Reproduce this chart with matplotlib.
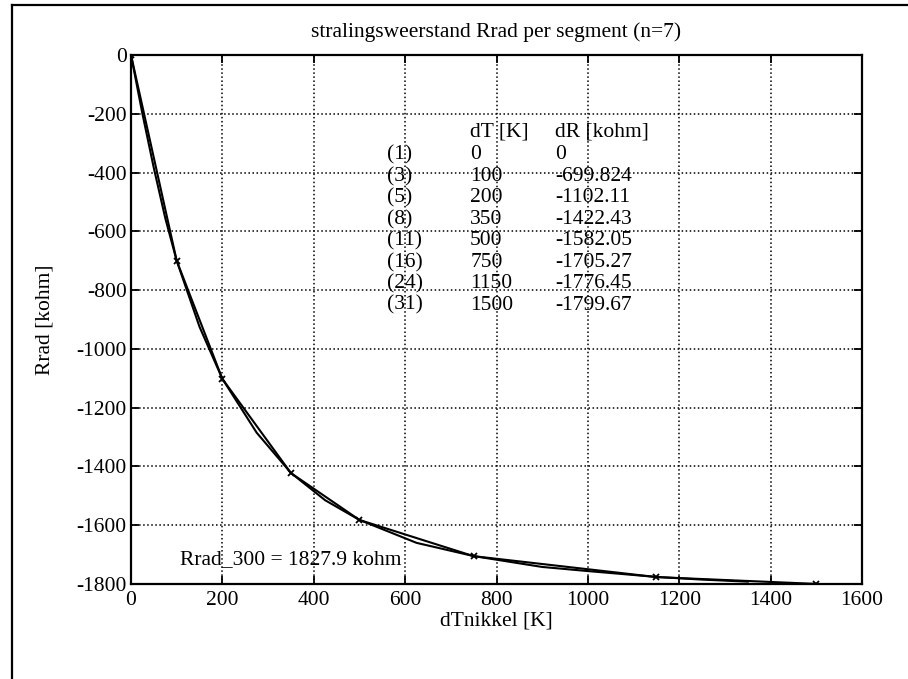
import matplotlib
matplotlib.use("Agg")
import matplotlib.pyplot as plt
from matplotlib.lines import Line2D

# Data: computed points (marked with x)
dT = [0, 100, 200, 350, 500, 750, 1150, 1500]
dR = [0, -699.824, -1102.11, -1422.43, -1582.05, -1705.27, -1776.45, -1799.67]
seg_idx = ["(1)", "(3)", "(5)", "(8)", "(11)", "(16)", "(24)", "(31)"]
dT_labels = ["0", "100", "200", "350", "500", "750", "1150", "1500"]
dR_labels = ["0", "-699.824", "-1102.11", "-1422.43", "-1582.05", "-1705.27", "-1776.45", "-1799.67"]

# Smooth curve
smooth_x = [0, 25, 50, 75, 100, 150, 200, 275, 350, 425, 500, 625, 750, 900, 1000, 1150, 1250, 1350]
smooth_y = [0, -200, -385, -555, -700, -925, -1102, -1285, -1422, -1515, -1582, -1660, -1705, -1742, -1756, -1776, -1785, -1792]

xticks = [0, 200, 400, 600, 800, 1000, 1200, 1400, 1600]
yticks = [0, -200, -400, -600, -800, -1000, -1200, -1400, -1600, -1800]

plt.rcParams['font.family'] = ['Liberation Serif', 'DejaVu Serif']
plt.rcParams['axes.unicode_minus'] = False

FS = 15.5

fig = plt.figure(figsize=(9.08, 6.79), dpi=100)
ax = fig.add_axes([131/908, 1-584/679, 731/908, 529/679])

ax.plot(smooth_x, smooth_y, color='black', lw=1.5)
ax.plot(dT, dR, color='black', lw=1.5, marker='x', ms=5, mew=1.3)

ax.set_xlim(0, 1600)
ax.set_ylim(-1800, 0)
ax.set_xticks(xticks)
ax.set_yticks(yticks)
ax.tick_params(direction='in', top=True, right=True, length=6, width=1.3, labelsize=FS)
ax.tick_params(axis='x', pad=5)
ax.tick_params(axis='y', pad=3)
for s in ax.spines.values():
    s.set_linewidth(1.6)
ax.grid(True, linestyle=':', color='black', lw=1.1)

ax.set_title("stralingsweerstand Rrad per segment (n=7)", fontsize=FS, pad=13)
ax.set_xlabel("dTnikkel [K]", fontsize=FS, labelpad=1)
ax.set_ylabel("Rrad [kohm]", fontsize=FS, labelpad=16)

# table text
col_x = [0.350, 0.464, 0.580]
ax.text(col_x[1], 0.854, "dT [K]", transform=ax.transAxes, fontsize=FS, va='center', ha='left')
ax.text(col_x[2], 0.854, "dR [kohm]", transform=ax.transAxes, fontsize=FS, va='center', ha='left')
row0 = 0.811
dy = 0.0406
for i in range(len(seg_idx)):
    yy = row0 - i * dy
    for cx, txt in zip(col_x, (seg_idx[i], dT_labels[i], dR_labels[i])):
        ax.text(cx, yy, txt, transform=ax.transAxes, fontsize=FS, va='center', ha='left')

ax.text(107, -1718, "Rrad_300 = 1827.9 kohm", fontsize=FS, va='center', ha='left')

# figure frame lines (top and left)
fig.add_artist(Line2D([12/908, 1.0], [1-5/679, 1-5/679], color='black', lw=1.6, transform=fig.transFigure))
fig.add_artist(Line2D([12/908, 12/908], [0, 1-5/679], color='black', lw=1.6, transform=fig.transFigure))

fig.savefig("out.png", dpi=100)
